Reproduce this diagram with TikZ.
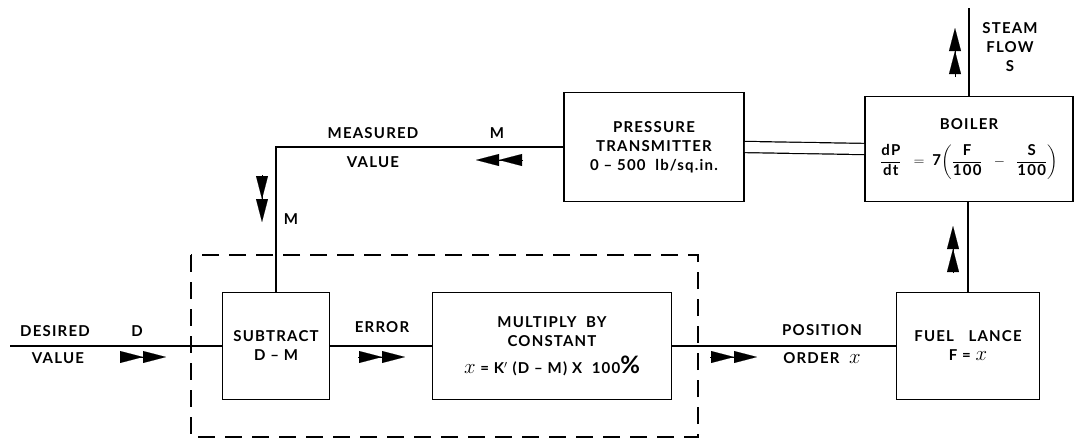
\documentclass[tikz,border=0pt]{standalone}
\usepackage{fontspec}
\setmainfont[LetterSpace=8]{Lato}
\usepackage{amsmath}
\usetikzlibrary{arrows.meta}

\newcommand{\posx}{{\fontsize{21}{21}\selectfont$x$}}

\begin{document}
\begin{tikzpicture}[x=1pt, y=-1pt, line width=1.2pt,
    block/.style={draw, line width=1.7pt, align=center, inner sep=0pt, font=\fontsize{15}{19}\selectfont\bfseries},
    lbl/.style={align=center, inner sep=0pt, font=\fontsize{15}{19}\selectfont\bfseries},
    twinhead/.style={line width=0.1pt, -{Triangle[length=23pt,width=12pt] Triangle[length=23pt,width=12pt]}},
    loopbox/.style={line width=1.2pt, dash pattern=on 17pt off 10pt}]
  \useasboundingbox (0,0) rectangle (1084,442);

  \node[block, minimum width=107pt, minimum height=107pt] (sub) at (276,346) {SUBTRACT\\D -- M};
  \node[block, minimum width=239pt, minimum height=107pt] (mul) at (552,346)
    {MULTIPLY \ BY\\CONSTANT\\[8pt]\posx{} = K$'$ (D -- M) X \ 100{\fontsize{24}{24}\selectfont\%}};
  \node[block, minimum width=143pt, minimum height=107pt] (fuel) at (968,346) {FUEL \ \ LANCE\\F = \posx};
  \node[block, minimum width=180pt, minimum height=109pt] (pt) at (654,147)
    {PRESSURE\\TRANSMITTER\\0 -- 500 \ lb/sq.in.};
  \node[block, minimum width=208pt, minimum height=105pt] (boil) at (969,149)
    {BOILER\\[14pt]$\dfrac{\text{dP}}{\text{dt}} \;\;=\; \text{7}\!\left(\dfrac{\text{F}}{\text{100}} \;\;-\;\; \dfrac{\text{S}}{\text{100}}\right)$};

  \draw[loopbox] (191,255) rectangle (698,437);

  \coordinate (din) at (10,346);
  \coordinate (steam) at (969,8);
  \coordinate (corner) at (sub.north |- pt.west);

  \draw (din) -- (sub);
  \draw (sub) -- (mul);
  \draw (mul) -- (fuel);
  \draw (fuel.north) -- (fuel.north |- boil.south);
  \draw (boil.north) -- (steam);
  \draw (pt.west) -- (corner) -- (sub.north);
  \draw[double, double distance=10pt] (pt.east) -- (boil.west);

  \node[lbl] (desired) at (55,331) {DESIRED};
  \node[lbl] (dvalue) at (58,358) {VALUE};
  \node[lbl] (dsym) at (137,331) {D};
  \node[lbl] (error) at (382,327) {ERROR};
  \node[lbl] (meas) at (373,133) {MEASURED};
  \node[lbl] (mvalue) at (373,162) {VALUE};
  \node[lbl] (msym) at (497,133) {M};
  \node[lbl] (msym2) at (291,219) {M};
  \node[lbl] (position) at (822,330) {POSITION};
  \node[lbl] (order) at (822,358) {ORDER \ \posx};
  \node[lbl] (steamflow) at (1010,47) {STEAM\\FLOW\\S};

  \draw[twinhead] (120,357) -- (166,357);
  \draw[twinhead] (358,357) -- (405,357);
  \draw[twinhead] (710,357) -- (757,357);
  \draw[twinhead] (523,160) -- (476,160);
  \draw[twinhead] (262,175) -- (262,222);
  \draw[twinhead] (953,273) -- (953,226);
  \draw[twinhead] (955,77) -- (955,28);
\end{tikzpicture}
\end{document}
